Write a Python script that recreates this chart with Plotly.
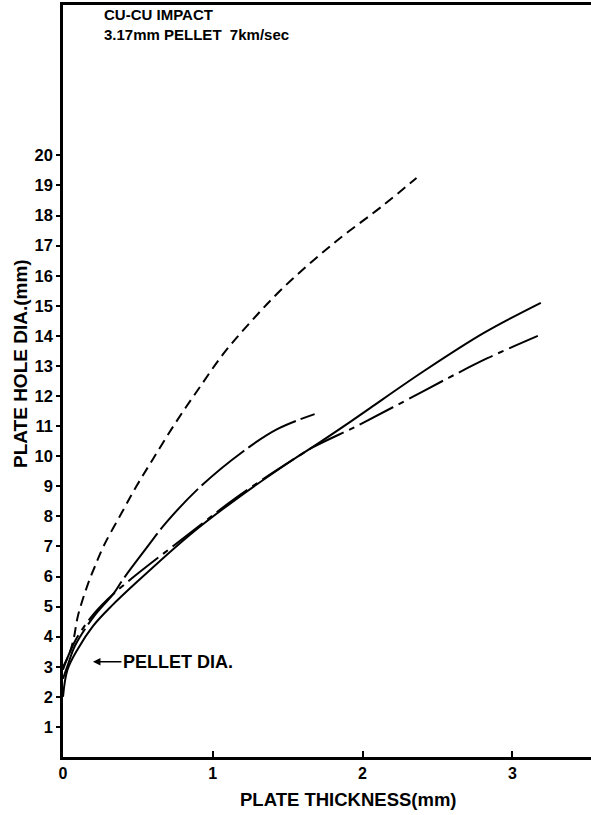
import plotly.graph_objects as go

# ---- data ----
dashed_x = [0.0, 0.04, 0.07, 0.10, 0.17, 0.21, 0.27, 0.39, 0.49, 0.60, 0.75, 0.90, 1.07, 1.25, 1.47, 1.80, 2.14, 2.36]
dashed_y = [3.0, 3.4, 3.9, 4.7, 5.8, 6.3, 7.0, 8.1, 9.0, 9.9, 11.1, 12.2, 13.4, 14.45, 15.6, 17.05, 18.35, 19.25]

longdash_x = [0.0, 0.035, 0.08, 0.21, 0.34, 0.40, 0.55, 0.69, 0.92, 1.20, 1.43, 1.68]
longdash_y = [2.6, 3.1, 3.7, 4.7, 5.45, 5.9, 6.9, 7.8, 9.0, 10.15, 10.9, 11.4]

solid_x = [0.0, 0.03, 0.10, 0.20, 0.32, 0.50, 0.85, 1.15, 1.54, 1.65, 1.92, 2.05, 2.40, 2.81, 3.19]
solid_y = [2.0, 2.9, 3.6, 4.35, 5.0, 5.85, 7.4, 8.55, 9.9, 10.25, 11.15, 11.6, 12.8, 14.1, 15.1]

dashdot_x = [0.0, 0.03, 0.08, 0.18, 0.30, 0.45, 0.85, 1.15, 1.54, 1.67, 1.92, 2.00, 2.23, 2.58, 2.83, 3.17]
dashdot_y = [2.9, 3.3, 3.85, 4.6, 5.25, 5.9, 7.45, 8.6, 9.9, 10.3, 10.9, 11.1, 11.7, 12.62, 13.25, 14.0]

x_ticks = [0, 1, 2, 3]
y_ticks = list(range(1, 21))
pellet_dia = 3.17

FONT = "Liberation Sans"

fig = go.Figure()
fig.add_trace(go.Scatter(x=dashed_x, y=dashed_y, mode="lines", line_shape="spline",
                         line=dict(color="black", width=2, dash="10px,6px")))
fig.add_trace(go.Scatter(x=longdash_x, y=longdash_y, mode="lines", line_shape="spline",
                         line=dict(color="black", width=2, dash="55px,5px")))
fig.add_trace(go.Scatter(x=solid_x, y=solid_y, mode="lines", line_shape="spline",
                         line=dict(color="black", width=2)))
fig.add_trace(go.Scatter(x=dashdot_x, y=dashdot_y, mode="lines", line_shape="spline",
                         line=dict(color="black", width=2, dash="38px,6px,6px,6px")))

fig.update_layout(
    width=591, height=815,
    margin=dict(l=63, r=0, t=5, b=58),
    paper_bgcolor="white", plot_bgcolor="white",
    showlegend=False,
    font=dict(family=FONT, color="black"),
)
fig.update_xaxes(range=[0, 3.525], showgrid=False, zeroline=False,
                 showline=True, linecolor="black", linewidth=2.5, mirror=True,
                 tickvals=x_ticks, ticktext=[str(v) for v in x_ticks],
                 ticks="inside", ticklen=6, tickwidth=1.5, tickcolor="black",
                 tickfont=dict(size=16, family=FONT, weight="bold"))
fig.update_yaxes(range=[0, 25], showgrid=False, zeroline=False,
                 showline=True, linecolor="black", linewidth=2.5,
                 tickvals=y_ticks, ticktext=[str(v) for v in y_ticks],
                 ticks="outside", ticklen=4, tickwidth=1.5, tickcolor="black",
                 tickfont=dict(size=16.5, family=FONT, weight="bold"))

fig.add_annotation(xref="paper", yref="paper", x=-0.0814, y=(757 - 364) / 752,
                   text="PLATE HOLE DIA.(mm)",
                   textangle=-90, showarrow=False, xanchor="center", yanchor="middle",
                   font=dict(size=19, family=FONT, weight="bold"))
fig.add_annotation(xref="paper", yref="paper", x=0.54, y=-0.057, text="PLATE THICKNESS(mm)",
                   showarrow=False, xanchor="center", yanchor="middle",
                   font=dict(size=18.5, family=FONT, weight="bold"))
fig.add_annotation(xref="paper", yref="paper", x=0.0735, y=(757 - 25) / 752,
                   text="CU-CU IMPACT<br>3.17mm PELLET  7km/sec", align="left",
                   showarrow=False, xanchor="left", yanchor="middle",
                   font=dict(size=15, family=FONT, weight="bold"))
fig.add_annotation(x=0.2, y=pellet_dia, text="PELLET DIA.", showarrow=True,
                   ax=85, ay=0, arrowhead=2, arrowsize=1, arrowwidth=1.5, arrowcolor="black",
                   font=dict(size=18, family=FONT, weight="bold"))

fig.write_html("out.html", config={"displayModeBar": False},
               post_script="document.body.style.margin='0';document.body.style.overflow='hidden';")
